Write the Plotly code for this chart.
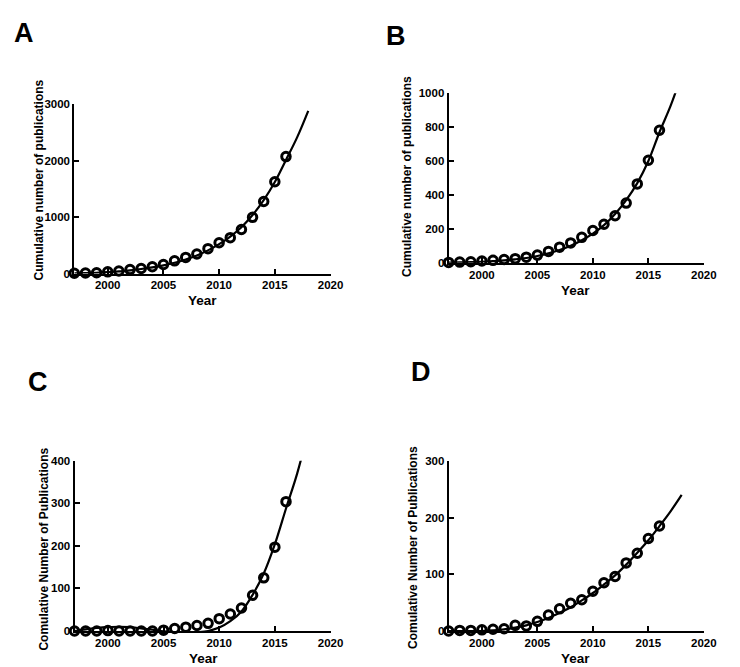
import plotly.graph_objects as go

W, H = 740, 667

years = list(range(1997, 2017))
fit_years = list(range(1997, 2019))

# Panel A data
a_values = [5, 10, 15, 30, 45, 70, 90, 120, 160, 225, 285, 345, 440, 545, 635, 780, 995, 1275, 1625, 2070]
a_fit = [2, 6, 13, 24, 38, 55, 80, 110, 145, 190, 250, 320, 410, 520, 655, 820, 1035, 1300, 1620, 2010, 2410, 2880]

# Panel B data
b_values = [2, 4, 6, 10, 14, 19, 24, 33, 45, 67, 92, 117, 150, 190, 227, 277, 352, 465, 605, 782]
b_fit = [1, 2, 4, 6, 10, 14, 20, 28, 40, 55, 75, 100, 133, 172, 222, 288, 370, 470, 600, 770, 925, 1110]

# Panel C data
c_values = [0, 0, 0, 1, 0, 0, 0, 0, 2, 6, 9, 13, 18, 29, 40, 54, 84, 125, 197, 304]
c_fit = [0, 4, 7, 9, 10, 9, 6, 3, -1, -3, -4, -3, 0, 8, 23, 46, 85, 135, 204, 288, 370, 470]

# Panel D data
d_values = [0, 1, 1, 2, 3, 4, 10, 9, 17, 28, 39, 49, 55, 70, 85, 96, 120, 137, 163, 185]
d_fit = [0, 0, 0, 0, 1, 3, 6, 10, 16, 23, 32, 42, 54, 67, 82, 98, 117, 138, 160, 185, 211, 240]

panels = [
    dict(key="", label="A", vals=a_values, fit=a_fit, yr=[0, 3000], yt=[0, 1000, 2000, 3000],
         xd=(67.5, 328.3), yd=(91.7, 264.3), ytitle="Cumulative number of publications",
         lab=(16, 19), yttl=(32, 169), xttl=(198, 292)),
    dict(key="2", label="B", vals=b_values, fit=b_fit, yr=[0, 1000], yt=[0, 200, 400, 600, 800, 1000],
         xd=(448.5, 708.3), yd=(80.7, 253.3), ytitle="Cumulative number of publications",
         lab=(395, 22), yttl=(406, 165), xttl=(578, 282)),
    dict(key="3", label="C", vals=c_values, fit=c_fit, yr=[0, 400], yt=[0, 100, 200, 300, 400],
         xd=(67.7, 328.3), yd=(455, 628.3), ytitle="Comulative Number of Publications",
         lab=(31, 375), yttl=(37, 545), xttl=(199, 656)),
    dict(key="4", label="D", vals=d_values, fit=d_fit, yr=[0, 300], yt=[0, 100, 200, 300],
         xd=(448.5, 708.3), yd=(455, 628.3), ytitle="Comulative Number of Publications",
         lab=(420, 365), yttl=(412, 543), xttl=(578, 656)),
]

FONT = "Liberation Sans, Arial, sans-serif"

fig = go.Figure()
layout = dict(
    width=W, height=H, margin=dict(l=0, r=0, t=0, b=0),
    paper_bgcolor="white", plot_bgcolor="white", showlegend=False,
    annotations=[],
)

for p in panels:
    k = p["key"]
    xa = "x" + k
    ya = "y" + k
    fig.add_trace(go.Scatter(
        x=fit_years, y=p["fit"], mode="lines", line=dict(color="black", width=2.2, shape="spline"),
        xaxis=xa, yaxis=ya, hoverinfo="skip"))
    fig.add_trace(go.Scatter(
        x=years, y=p["vals"], mode="markers", cliponaxis=False,
        marker=dict(symbol="circle-open", size=8.5, color="black", line=dict(width=3, color="black")),
        xaxis=xa, yaxis=ya))
    x0, x1 = p["xd"]
    yt, yb = p["yd"]
    layout["xaxis" + k] = dict(
        domain=[x0 / W, x1 / W], range=[1997, 2020], anchor=ya,
        tickvals=[2000, 2005, 2010, 2015, 2020], ticktext=["2000", "2005", "2010", "2015", "2020"],
        showgrid=False, zeroline=False, showline=True, linecolor="black", linewidth=2,
        ticks="inside", ticklen=5, tickwidth=2, tickcolor="black",
        tickfont=dict(family=FONT, size=11.5, color="black", weight="bold"),
    )
    layout["yaxis" + k] = dict(
        domain=[1 - yb / H, 1 - yt / H], range=p["yr"], anchor=xa,
        tickvals=p["yt"], ticktext=[str(v) for v in p["yt"]],
        showgrid=False, zeroline=False, showline=True, linecolor="black", linewidth=2,
        ticks="inside", ticklen=5, tickwidth=2, tickcolor="black",
        tickfont=dict(family=FONT, size=11.5, color="black", weight="bold"),
    )
    layout["annotations"] += [
        dict(text=p["label"], x=p["lab"][0] / W, y=1 - p["lab"][1] / H, xref="paper", yref="paper",
             showarrow=False, xanchor="center", yanchor="middle",
             font=dict(family=FONT, size=27, color="black", weight="bold")),
        dict(text=p["ytitle"], x=p["yttl"][0] / W, y=1 - p["yttl"][1] / H, xref="paper", yref="paper",
             showarrow=False, xanchor="center", yanchor="middle", textangle=-90,
             font=dict(family=FONT, size=12, color="black", weight="bold")),
        dict(text="Year", x=p["xttl"][0] / W, y=1 - p["xttl"][1] / H, xref="paper", yref="paper",
             showarrow=False, xanchor="center", yanchor="middle",
             font=dict(family=FONT, size=13.5, color="black", weight="bold")),
    ]

fig.update_layout(**layout)
fig.write_html("out.html")
